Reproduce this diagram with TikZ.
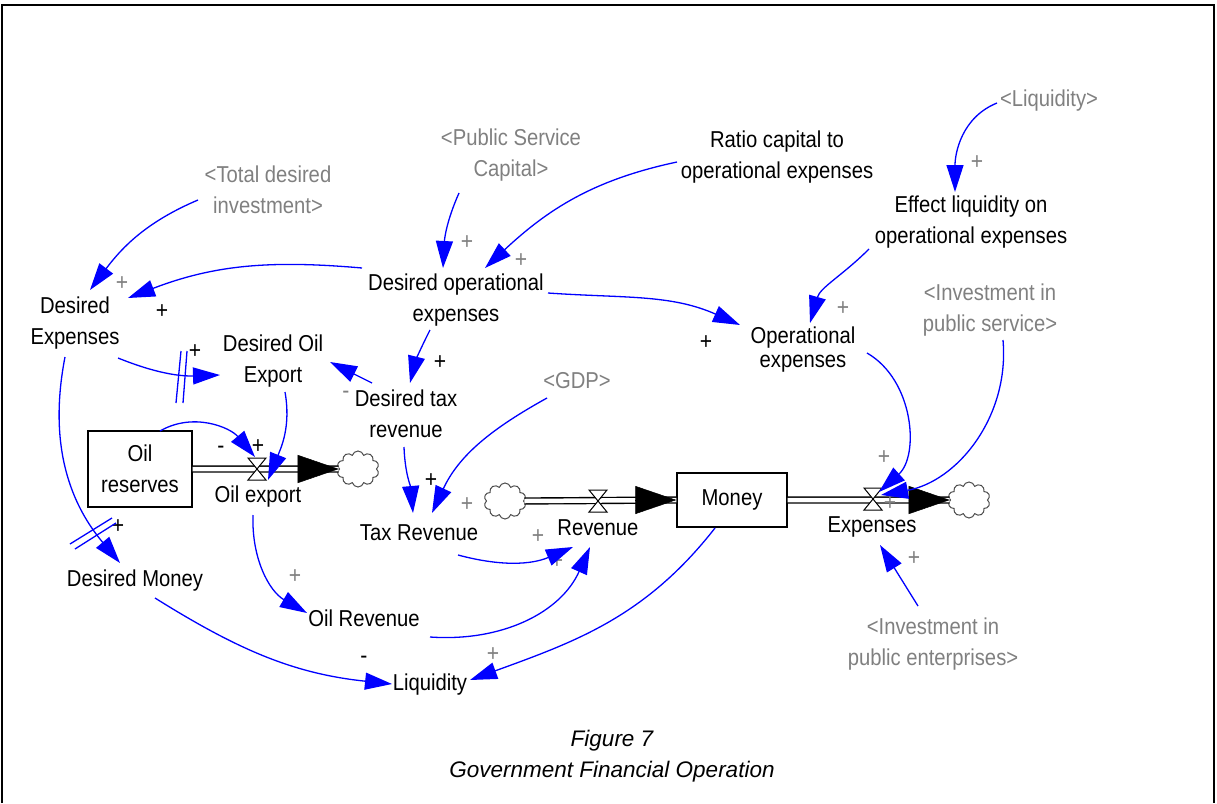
\documentclass[tikz,border=0pt]{standalone}
\usepackage{fontspec}
\setmainfont{Liberation Sans}[FakeStretch=0.88]
\newfontfamily\captionfont{Liberation Sans}
\usetikzlibrary{arrows.meta,shapes.symbols,calc,positioning}
\definecolor{linkcolor}{rgb}{0,0,1}
\definecolor{shadowcolor}{rgb}{0.5,0.5,0.5}
\tikzset{
	auxvar/.style={
		align=center,
		inner sep=0pt,
		font=\fontsize{23}{31}\selectfont
	},
	shadowvar/.style={
		auxvar,
		text=shadowcolor
	},
	stockbox/.style={
		rectangle,
		draw=black,
		line width=1.4pt,
		align=center,
		inner sep=0pt,
		font=\fontsize{23}{31}\selectfont
	},
	sourcecloud/.style={
		cloud,
		cloud puffs=10,
		aspect=1.1,
		draw=black!70,
		line width=1pt,
		fill=white,
		minimum width=42pt,
		minimum height=36pt,
		inner sep=0pt
	},
	pipe/.style={
		draw=black,
		double=white,
		double distance=4.5pt,
		line width=1.4pt
	},
	flowhead/.style={
		draw=black,
		line width=0.5pt,
		-{Triangle[length=41pt,width=28pt]}
	},
	link/.style={
		draw=linkcolor,
		line width=1.3pt,
		-{Triangle[length=27pt,width=17pt]}
	},
	delaymark/.style={
		draw=linkcolor,
		line width=1.3pt
	},
	pol/.style={
		inner sep=0pt,
		font=\fontsize{24}{24}\selectfont
	},
	captiontext/.style={
		inner sep=0pt,
		font=\captionfont\itshape\fontsize{22.5}{27}\selectfont
	},
	valve/.pic={
		\draw[fill=white, line width=1pt] (-9,-11) -- (9,-11) -- (-9,11) -- (9,11) -- cycle;
	}
}

\begin{document}
\begin{tikzpicture}[x=1pt,y=-1pt]
	\useasboundingbox (0,0) rectangle (1217,803);
	\draw[line width=1.5pt] (2,803) -- (2,5) -- (1214,5) -- (1214,803);

	% stocks, clouds and valves
	\node [stockbox, minimum width=104pt, minimum height=76pt] (OilRes) at (140,469) {Oil\\reserves};
	\node [stockbox, minimum width=110pt, minimum height=54pt] (Money) at (732,500) {Money};
	\node [sourcecloud] (cOil) at (358,469) {};
	\node [sourcecloud] (cRev) at (505,501) {};
	\node [sourcecloud] (cExp) at (969,500) {};
	\coordinate (vOil) at (257,469);
	\coordinate (vRev) at (598,501);
	\coordinate (vExp) at (873,499);

	\draw[pipe] (OilRes.east) -- (cOil.west);
	\draw[pipe] (cRev.east) -- (Money.west);
	\draw[pipe] (Money.east) -- (cExp.west);
	\draw[flowhead] ($(cOil.west)+(-41,0)$) -- (cOil.west);
	\draw[flowhead] ($(Money.west)+(-41,0)$) -- (Money.west);
	\draw[flowhead] ($(cExp.west)+(-41,0)$) -- (cExp.west);
	\pic at (vOil) {valve};
	\pic at (vRev) {valve};
	\pic at (vExp) {valve};

	% variables
	\node [auxvar] (OilExpLbl) at (258,497) {Oil export};
	\node [auxvar] (RevLbl) at (598,528) {Revenue};
	\node [auxvar] (ExpLbl) at (872,527) {Expenses};
	\node [auxvar] (DesExp) at (75,323) {Desired\\Expenses};
	\node [shadowvar] (TotInv) at (268,190) {<Total desired\\investment>};
	\node [shadowvar] (PubCap) at (511,155) {<Public Service\\Capital>};
	\node [auxvar] (Ratio) at (777,157) {Ratio capital to\\operational expenses};
	\node [shadowvar] (LiqTop) at (1049,101) {<Liquidity>};
	\node [auxvar] (EffLiq) at (971,222) {Effect liquidity on\\operational expenses};
	\node [auxvar] (DesOp) at (456,300) {Desired operational\\expenses};
	\node [shadowvar] (InvPS) at (990,310) {<Investment in\\public service>};
	\node [auxvar] (OpExp) at (803,350) {Operational\\[-7pt]expenses};
	\node [auxvar] (DesOil) at (273,361) {Desired Oil\\Export};
	\node [auxvar] (DesTax) at (406,414) {Desired tax\\revenue};
	\node [shadowvar] (GDP) at (577,381) {<GDP>};
	\node [auxvar] (TaxRev) at (419,533) {Tax Revenue};
	\node [shadowvar] (InvPE) at (933,644) {<Investment in\\public enterprises>};
	\node [auxvar] (DesMoney) at (135,581) {Desired Money};
	\node [auxvar] (OilRev) at (364,618) {Oil Revenue};
	\node [auxvar] (Liq) at (430,685) {Liquidity};

	% polarities
	\foreach \px/\py/\sgn/\col [count=\i] in {
		122/284/+/shadowcolor, 162/312/+/black, 195/352/+/black, 118/527/+/black,
		467/243/+/shadowcolor, 521/261/+/shadowcolor, 977/163/+/shadowcolor,
		843/309/+/shadowcolor, 706/343/+/black, 440/363/+/black, 346/395/-/shadowcolor,
		221/450/-/black, 258/447/+/black, 431/481/+/black, 467/505/+/shadowcolor,
		538/537/+/shadowcolor, 557/562/+/shadowcolor, 295/577/+/shadowcolor,
		493/655/+/shadowcolor, 364/660/-/black, 884/458/+/shadowcolor,
		890/504/+/shadowcolor, 914/559/+/shadowcolor}
		\node [pol, text=\col] (pol\i) at (\px,\py) {\sgn};

	% causal links
	\draw[link] ($(TotInv)+(-70,10)$) to[out=203,in=53] ($(DesExp)+(15,-33)$);
	\draw[link] ($(DesOp)+(-94,-32)$) to[out=175,in=21] ($(DesExp)+(53,-25)$);
	\draw[link] ($(DesExp)+(43,35)$) to[out=-22,in=182] ($(DesOil)+(-53,14)$);
	\draw[link] ($(DesExp)+(-10,34)$) to[out=259,in=130] ($(DesMoney)+(-15,-18)$);
	\draw[link] ($(PubCap)+(-52,38)$) to[out=246,in=87] ($(DesOp)+(-13,-32)$);
	\draw[link] ($(Ratio)+(-100,5)$) to[out=192,in=43] ($(DesOp)+(29,-32)$);
	\draw[link] ($(LiqTop)+(-52,2)$) to[out=202,in=90] ($(EffLiq)+(-16,-30)$);
	\draw[link] ($(EffLiq)+(-102,27)$) to[out=225,in=74] ($(OpExp)+(7,-27)$);
	\draw[link] ($(DesOp)+(92,-7)$) to[out=-4,in=156] ($(OpExp)+(-63,-25)$);
	\draw[link] ($(DesOp)+(-26,30)$) to[out=243,in=76] ($(DesTax)+(4,-31)$);
	\draw[link] ($(DesTax)+(-34,-31)$) -- ($(DesOil)+(57,1)$);
	\draw[link] ($(OilRes)+(20,-38)$) to[out=30,in=130] ($(vOil)+(-2,-12)$);
	\draw[link] ($(DesOil)+(12,31)$) to[out=-80,in=68] ($(vOil)+(11,11)$);
	\draw[link] ($(DesTax)+(-2,33)$) to[out=-88,in=95] ($(TaxRev)+(-6,-20)$);
	\draw[link] ($(GDP)+(-30,17)$) to[out=209,in=65] ($(TaxRev)+(13,-20)$);
	\draw[link] ($(TaxRev)+(39,22)$) to[out=-15,in=203] ($(RevLbl)+(-25,19)$);
	\draw[link] ($(OilRev)+(66,19)$) to[out=-4,in=246] ($(RevLbl)+(-8,19)$);
	\draw[link] ($(OilExpLbl)+(-5,18)$) to[out=-92,in=150] ($(OilRev)+(-57,-5)$);
	\draw[link] ($(Money)+(-17,28)$) to[out=232,in=20] ($(Liq)+(40,-5)$);
	\draw[link] ($(DesMoney)+(20,17)$) to[out=-32,in=174] ($(Liq)+(-38,-1)$);
	\draw[link] ($(OpExp)+(64,3)$) to[out=-30,in=42] ($(vExp)+(6,-7)$);
	\draw[link] ($(InvPS)+(13,30)$) to[out=-85,in=10] ($(vExp)+(8,-4)$);
	\draw[link] ($(InvPE)+(-15,-38)$) -- ($(ExpLbl)+(8,18)$);

	% delay marks
	\draw[delaymark] (181,351) -- (176,403) (187,351) -- (183,403);
	\draw[delaymark] (70,544) -- (112,518) (75,549) -- (116,523);

	% caption
	\node [captiontext] (fig) at (612,741) {Figure 7};
	\node [captiontext] (figtitle) at (612,772) {Government Financial Operation};
\end{tikzpicture}
\end{document}
